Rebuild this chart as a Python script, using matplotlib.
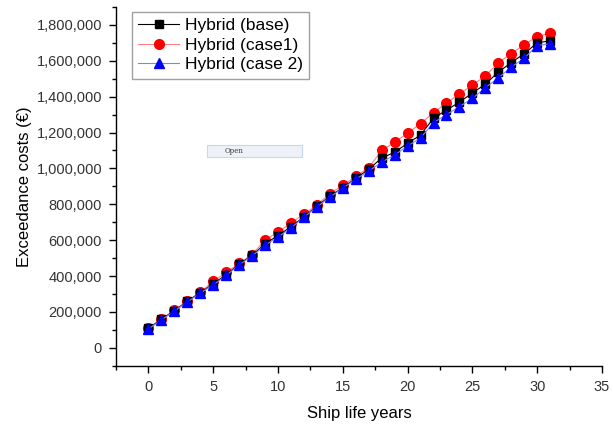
import matplotlib
matplotlib.use("Agg")
import matplotlib.pyplot as plt
from matplotlib.ticker import FuncFormatter, MultipleLocator
from matplotlib.patches import Rectangle

plt.rcParams['font.family'] = ['Liberation Sans', 'DejaVu Sans']

years = list(range(32))
base_k = [108, 158, 207, 258, 308, 355, 408, 465, 515, 580, 625, 675, 730, 790, 845, 893,
          945, 995, 1058, 1090, 1140, 1186, 1280, 1325, 1370, 1420, 1470, 1537, 1590, 1640, 1700, 1712]
case1_k = [110, 160, 210, 260, 310, 370, 420, 470, 520, 600, 645, 695, 745, 795, 860, 905,
           955, 1005, 1100, 1146, 1197, 1250, 1310, 1365, 1414, 1465, 1515, 1590, 1640, 1690, 1735, 1755]
case2_k = [105, 155, 205, 255, 305, 350, 403, 462, 512, 572, 617, 668, 728, 785, 840, 890,
           940, 985, 1035, 1075, 1125, 1170, 1255, 1300, 1345, 1390, 1450, 1505, 1565, 1615, 1685, 1695]
base = [v * 1000 for v in base_k]
case1 = [v * 1000 for v in case1_k]
case2 = [v * 1000 for v in case2_k]
labels = ["Hybrid (base)", "Hybrid (case1)", "Hybrid (case 2)"]

fig = plt.figure(figsize=(6.13, 4.24), dpi=100)
ax = fig.add_axes([116/613, 1-365.7/424, (602-116)/613, (365.7-7)/424])

ax.plot(years, base, color='black', lw=0.8, marker='s', ms=5.5, label=labels[0], zorder=3)
ax.plot(years, case1, color='#ff8080', lw=0.8, marker='o', ms=7, mfc='red', mec='red', label=labels[1], zorder=2)
ax.plot(years, case2, color='#8080ff', lw=0.8, marker='^', ms=7, mfc='blue', mec='blue', label=labels[2], zorder=4)

ax.set_xlim(-2.5, 35)
ax.set_ylim(-100000, 1900000)
ax.xaxis.set_major_locator(MultipleLocator(5))
ax.xaxis.set_minor_locator(MultipleLocator(2.5))
ax.yaxis.set_major_locator(MultipleLocator(200000))
ax.yaxis.set_minor_locator(MultipleLocator(100000))
ax.yaxis.set_major_formatter(FuncFormatter(lambda v, p: f"{int(round(v)):,}"))
for s in ['top', 'right']:
    ax.spines[s].set_visible(False)
for s in ['left', 'bottom']:
    ax.spines[s].set_linewidth(1.0)
ax.tick_params(which='major', direction='out', length=5, width=1, labelsize=10.5,
               colors='black', labelcolor='#333333', pad=5)
ax.tick_params(which='minor', direction='out', length=3, width=1)

ax.set_xlabel("Ship life years", fontsize=12, labelpad=9)
ax.set_ylabel("Exceedance costs (€)", fontsize=12, labelpad=3)

leg = ax.legend(loc='upper left', bbox_to_anchor=(0.025, 0.995), fontsize=12.5, frameon=True,
                fancybox=False, edgecolor='#888888', borderpad=0.35, labelspacing=0.25,
                handlelength=2.4, handletextpad=0.3, borderaxespad=0.2)
leg.get_frame().set_linewidth(1.0)

# "Open" button artifact
fig.patches.append(Rectangle((207/613, 1-157/424), 95/613, 12/424, transform=fig.transFigure,
                             facecolor='#eef2f8', edgecolor='#c8d8ec', lw=0.8))
fig.text(225/613, 1-151/424, "Open", fontsize=5, va='center', ha='left', color='#333333',
         family='DejaVu Serif')

fig.savefig("out.png", dpi=100)
